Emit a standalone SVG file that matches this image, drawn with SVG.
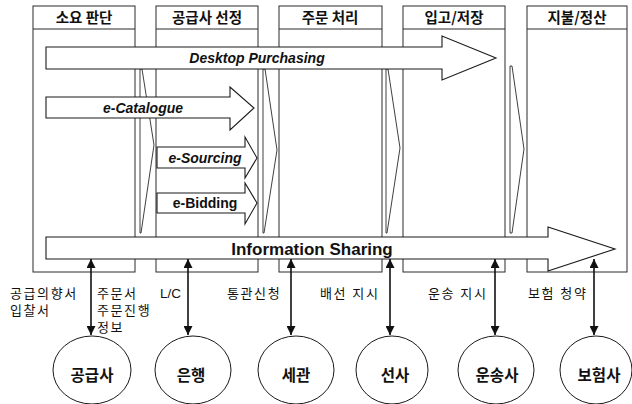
<svg xmlns="http://www.w3.org/2000/svg" width="632" height="404" viewBox="0 0 632 404">
  <defs>
    <style>
      .col { fill: #ffffff; stroke: #2a2a2a; stroke-width: 1; }
      .hdr-line { stroke: #2a2a2a; stroke-width: 1; }
      .hdr { font-family: "Noto Sans CJK KR", "Liberation Sans", sans-serif; font-weight: bold; font-size: 14.5px; fill: #111; text-anchor: middle; }
      .chev { fill: none; stroke: #2a2a2a; stroke-width: 0.9; }
      .flow { fill: #ffffff; stroke: #1a1a1a; stroke-width: 1.1; }
      .flow-label { font-family: "Liberation Sans", Arial, sans-serif; font-weight: bold; font-style: italic; font-size: 14px; fill: #111; text-anchor: middle; }
      .upright { font-style: normal; }
      .share-label { font-family: "Liberation Sans", Arial, sans-serif; font-weight: bold; font-size: 17px; fill: #111; text-anchor: middle; }
      .link { stroke: #111; stroke-width: 1.6; fill: none; marker-start: url(#head); marker-end: url(#head); }
      .note { font-family: "Liberation Sans", "Noto Sans CJK KR", sans-serif; font-size: 13px; fill: #111; letter-spacing: 1.6px; }
      .tight { letter-spacing: 0; font-size: 13.5px; }
      .party { fill: #ffffff; stroke: #1a1a1a; stroke-width: 1; }
      .party-label { font-family: "Noto Sans CJK KR", sans-serif; font-weight: bold; font-size: 15.5px; fill: #111; text-anchor: middle; }
    </style>
    <marker id="head" viewBox="0 0 10 10" refX="10" refY="5" markerWidth="9" markerHeight="9" markerUnits="userSpaceOnUse" orient="auto-start-reverse">
      <path d="M0,0 L10,5 L0,10 Z" fill="#111"/>
    </marker>
  </defs>

  <!-- process stage columns -->
  <g id="stage-demand">
    <rect class="col" x="33" y="6" width="102" height="266"/>
    <line class="hdr-line" x1="33" y1="29" x2="135" y2="29"/>
    <text class="hdr" x="84" y="23">소요 판단</text>
  </g>
  <g id="stage-supplier">
    <rect class="col" x="156" y="6" width="102" height="266"/>
    <line class="hdr-line" x1="156" y1="29" x2="258" y2="29"/>
    <text class="hdr" x="207" y="23">공급사 선정</text>
  </g>
  <g id="stage-order">
    <rect class="col" x="279" y="6" width="103" height="266"/>
    <line class="hdr-line" x1="279" y1="29" x2="382" y2="29"/>
    <text class="hdr" x="330" y="23">주문 처리</text>
  </g>
  <g id="stage-receiving">
    <rect class="col" x="403" y="6" width="102" height="266"/>
    <line class="hdr-line" x1="403" y1="29" x2="505" y2="29"/>
    <text class="hdr" x="454" y="23">입고/저장</text>
  </g>
  <g id="stage-payment">
    <rect class="col" x="527" y="6" width="100" height="266"/>
    <line class="hdr-line" x1="527" y1="29" x2="627" y2="29"/>
    <text class="hdr" x="577" y="23">지불/정산</text>
  </g>

  <!-- narrow chevrons in the gaps between stages -->
  <g id="stage-transitions">
    <polygon class="chev" points="140,69 142,69 154,145 141,233 140,233"/>
    <polygon class="chev" points="263,69 265,69 277,150 264,233 263,233"/>
    <polygon class="chev" points="386,69 388,69 400,148 387,233 386,233"/>
    <polygon class="chev" points="510,66 512,66 524,149 512,233 510,233"/>
  </g>

  <!-- e-procurement function arrows -->
  <g id="desktop-purchasing">
    <path class="flow" d="M46,47 H442 V36 L496,58 L442,80 V69 H46 Z"/>
    <text class="flow-label" x="257" y="63">Desktop Purchasing</text>
  </g>
  <g id="e-catalogue">
    <path class="flow" d="M46,97 H230 V87 L254,108 L230,130 V118 H46 Z"/>
    <text class="flow-label" x="143" y="113">e-Catalogue</text>
  </g>
  <g id="e-sourcing">
    <path class="flow" d="M157,147 H245 V137 L257,158 L245,178 V168 H157 Z"/>
    <text class="flow-label" x="205" y="163">e-Sourcing</text>
  </g>
  <g id="e-bidding">
    <path class="flow" d="M157,193 H245 V183 L257,203 L245,224 V213 H157 Z"/>
    <text class="flow-label upright" x="205" y="208">e-Bidding</text>
  </g>
  <g id="information-sharing">
    <path class="flow" d="M46,237 H548 V227 L615,249 L548,271 V259 H46 Z"/>
    <text class="share-label" x="312" y="255">Information Sharing</text>
  </g>

  <!-- links between the shared information and external parties -->
  <g id="connectors">
    <line class="link" x1="91" y1="259" x2="91" y2="335"/>
    <line class="link" x1="188" y1="259" x2="188" y2="335"/>
    <line class="link" x1="291" y1="259" x2="291" y2="335"/>
    <line class="link" x1="390" y1="259" x2="390" y2="335"/>
    <line class="link" x1="495" y1="259" x2="495" y2="335"/>
    <line class="link" x1="594" y1="259" x2="594" y2="335"/>
  </g>

  <!-- exchanged documents -->
  <g id="documents">
    <text class="note" x="10" y="298">공급의향서</text>
    <text class="note" x="10" y="315">입찰서</text>
    <text class="note" x="97" y="298">주문서</text>
    <text class="note" x="97" y="315">주문진행</text>
    <text class="note" x="97" y="332">정보</text>
    <text class="note tight" x="160" y="298">L/C</text>
    <text class="note" x="227" y="298">통관신청</text>
    <text class="note" x="320" y="298">배선 지시</text>
    <text class="note" x="428" y="298">운송 지시</text>
    <text class="note" x="528" y="298">보험 청약</text>
  </g>

  <!-- external parties -->
  <g id="party-supplier">
    <ellipse class="party" cx="92" cy="370" rx="39" ry="34"/>
    <text class="party-label" x="92" y="381">공급사</text>
  </g>
  <g id="party-bank">
    <ellipse class="party" cx="193" cy="370" rx="38" ry="34"/>
    <text class="party-label" x="191" y="381">은행</text>
  </g>
  <g id="party-customs">
    <ellipse class="party" cx="296" cy="370" rx="38" ry="34"/>
    <text class="party-label" x="296" y="381">세관</text>
  </g>
  <g id="party-carrier">
    <ellipse class="party" cx="392" cy="370" rx="36" ry="34"/>
    <text class="party-label" x="395" y="381">선사</text>
  </g>
  <g id="party-transport">
    <ellipse class="party" cx="496" cy="370" rx="38" ry="34"/>
    <text class="party-label" x="497" y="381">운송사</text>
  </g>
  <g id="party-insurer">
    <ellipse class="party" cx="596" cy="370" rx="36" ry="34"/>
    <text class="party-label" x="599" y="381">보험사</text>
  </g>
</svg>
